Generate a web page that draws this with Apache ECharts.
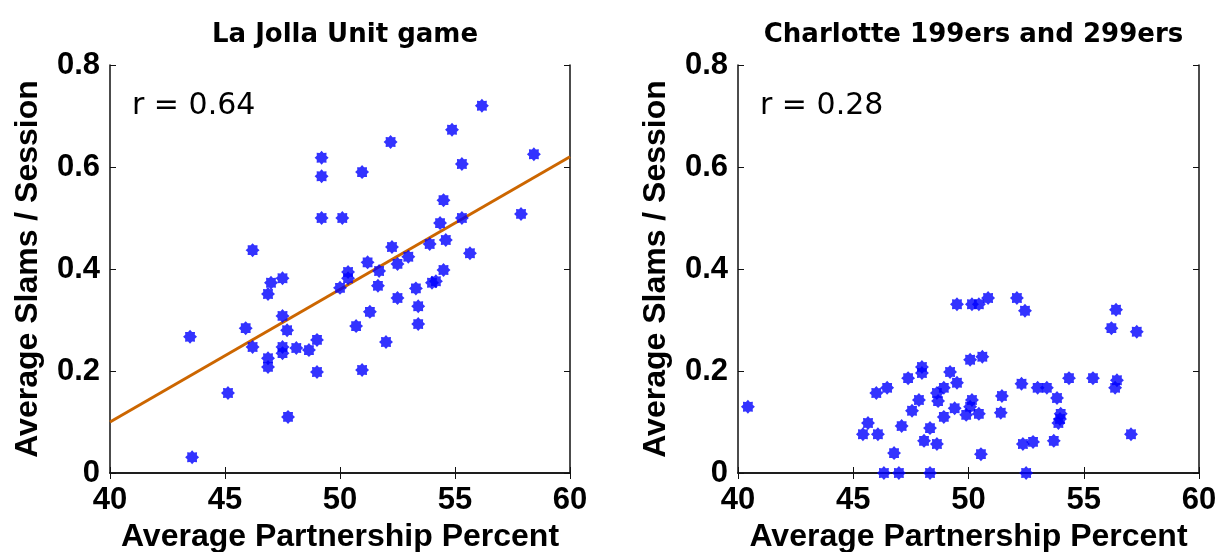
<!DOCTYPE html>
<html>
<head>
<meta charset="utf-8">
<script src="https://cdn.jsdelivr.net/npm/echarts@6/dist/echarts.min.js"></script>
<style>
  html, body { margin: 0; padding: 0; background: #fff; }
  #chart { width: 1232px; height: 552px; }
</style>
</head>
<body>
<div id="chart"></div>
<script>
  // La Jolla Unit game
  const laJollaX = [56.17, 54.87, 52.2, 49.2, 49.2, 50.96, 58.43, 55.3, 54.5, 49.2, 50.1, 57.87, 55.3, 54.35,
    46.2, 52.26, 53.9, 54.6, 52.97, 55.65, 51.2, 50.35, 50.35, 50.0, 51.7, 52.5, 51.65, 54.5, 54.17, 54.0,
    53.3, 53.4, 53.4, 52.5, 51.3, 50.7, 52.0, 50.96, 49.0, 49.0, 48.65, 48.1, 47.5, 47.7, 47.5, 47.5, 47.5,
    47.0, 46.87, 45.9, 46.2, 46.87, 46.87, 43.48, 45.13, 47.74, 43.57];
  const laJollaY = [0.72, 0.673, 0.649, 0.618, 0.582, 0.59, 0.625, 0.606, 0.535, 0.5, 0.5, 0.508, 0.5, 0.49,
    0.437, 0.443, 0.449, 0.457, 0.424, 0.431, 0.413, 0.394, 0.382, 0.363, 0.396, 0.41, 0.367, 0.398, 0.376, 0.373,
    0.362, 0.327, 0.292, 0.343, 0.316, 0.288, 0.257, 0.202, 0.198, 0.261, 0.241, 0.245, 0.308, 0.28, 0.247, 0.235, 0.382,
    0.373, 0.351, 0.284, 0.247, 0.225, 0.208, 0.267, 0.157, 0.11, 0.031];
  const fitX = [40, 60];
  const fitY = [0.1, 0.62];

  // Charlotte 199ers and 299ers
  const charlotteX = [40.43, 49.5, 50.15, 50.45, 50.85, 52.1, 52.45, 56.4, 56.2, 57.3, 50.07, 50.6, 47.98, 47.98,
    47.38, 46.47, 46.0, 49.2, 49.5, 48.93, 48.63, 48.68, 47.85, 47.55, 49.4, 50.15, 50.07, 49.9, 50.45, 48.93,
    51.45, 51.4, 52.3, 53.0, 53.4, 53.84, 54.0, 53.97, 53.9, 54.36, 55.4, 56.44, 56.36, 45.64, 45.42, 46.07,
    47.1, 48.33, 48.07, 48.63, 46.77, 50.54, 52.36, 52.8, 53.7, 57.05, 46.33, 46.98, 48.33, 52.5];
  const charlotteY = [0.13, 0.331, 0.331, 0.331, 0.343, 0.343, 0.318, 0.32, 0.284, 0.277, 0.222, 0.228, 0.208, 0.196,
    0.186, 0.167, 0.157, 0.198, 0.177, 0.167, 0.157, 0.141, 0.143, 0.122, 0.127, 0.143, 0.13, 0.114, 0.116, 0.11,
    0.151, 0.118, 0.175, 0.167, 0.167, 0.147, 0.116, 0.106, 0.098, 0.186, 0.186, 0.182, 0.167, 0.098, 0.076, 0.076,
    0.092, 0.088, 0.063, 0.057, 0.039, 0.037, 0.057, 0.061, 0.063, 0.076, 0, 0, 0, 0];

  const titles = ['La Jolla Unit game', 'Charlotte 199ers and 299ers'];
  const rLabels = ['r = 0.64', 'r = 0.28'];

  // 8 point star, like matlab '*' markers
  function starPath() {
    let d = '';
    for (let i = 0; i < 16; i++) {
      const a = Math.PI * i / 8;
      const r = i % 2 === 0 ? 10 : 7.4;
      d += (i === 0 ? 'M' : 'L') + (r * Math.cos(a)).toFixed(2) + ' ' + (r * Math.sin(a)).toFixed(2);
    }
    return d + 'Z';
  }
  const star = 'path://' + starPath();

  const font = 'Liberation Sans, Arial, sans-serif';
  const wideFont = 'DejaVu Sans, sans-serif';
  const grids = [
    {left: 110, top: 65, width: 460, height: 408, outerBoundsMode: 'none'},
    {left: 738, top: 65, width: 461, height: 408, outerBoundsMode: 'none'}
  ];

  const xAxis = [], yAxis = [];
  grids.forEach((g, i) => {
    xAxis.push({
      gridIndex: i, type: 'value', min: 40, max: 60, interval: 5, position: 'bottom',
      name: 'Average Partnership Percent', nameLocation: 'middle', nameGap: 48,
      nameTextStyle: {fontFamily: font, fontSize: 32, fontWeight: 'bold', color: '#000'},
      axisLine: {lineStyle: {color: '#111', width: 1.5}},
      axisTick: {inside: true, length: 6, lineStyle: {color: '#111'}},
      axisLabel: {fontFamily: font, fontSize: 31, fontWeight: 'bold', color: '#000', margin: 12},
      splitLine: {show: false}
    });
    xAxis.push({
      gridIndex: i, type: 'value', min: 40, max: 60, interval: 5, position: 'top',
      axisLine: {lineStyle: {color: '#111', width: 1.5}},
      axisTick: {inside: true, length: 6, lineStyle: {color: '#111'}},
      axisLabel: {show: false}, splitLine: {show: false}
    });
    yAxis.push({
      gridIndex: i, type: 'value', min: 0, max: 0.8, interval: 0.2, position: 'left',
      name: 'Average Slams / Session', nameLocation: 'middle', nameGap: 66,
      nameTextStyle: {fontFamily: font, fontSize: 32, fontWeight: 'bold', color: '#000'},
      axisLine: {lineStyle: {color: '#111', width: 1.5}},
      axisTick: {inside: true, length: 6, lineStyle: {color: '#111'}},
      axisLabel: {fontFamily: font, fontSize: 31, fontWeight: 'bold', color: '#000', margin: 10,
        formatter: v => v === 0 ? '0' : String(+v.toFixed(1))},
      splitLine: {show: false}
    });
    yAxis.push({
      gridIndex: i, type: 'value', min: 0, max: 0.8, interval: 0.2, position: 'right',
      axisLine: {lineStyle: {color: '#111', width: 1.5}},
      axisTick: {inside: true, length: 6, lineStyle: {color: '#111'}},
      axisLabel: {show: false}, splitLine: {show: false}
    });
  });

  const zip = (xs, ys) => xs.map((x, i) => [x, ys[i]]);

  const option = {
    animation: false,
    backgroundColor: '#fff',
    title: titles.map((t, i) => ({
      text: t, left: grids[i].left + grids[i].width / 2, top: 17, textAlign: 'center',
      textStyle: {fontFamily: wideFont, fontSize: 26, fontWeight: 'bold', color: '#000'}
    })).concat(rLabels.map((t, i) => ({
      text: t, left: grids[i].left + 17, top: 86,
      textStyle: {fontFamily: wideFont, fontSize: 30, fontWeight: 'normal', color: '#000'}
    }))),
    grid: grids,
    xAxis: xAxis,
    yAxis: yAxis,
    series: [
      {
        type: 'line', xAxisIndex: 0, yAxisIndex: 0, data: zip(fitX, fitY),
        symbol: 'none', lineStyle: {color: '#cc6600', width: 3}, z: 1
      },
      {
        type: 'scatter', xAxisIndex: 0, yAxisIndex: 0, data: zip(laJollaX, laJollaY),
        symbol: star, symbolSize: 14, clip: false, itemStyle: {color: '#0000ff'}, z: 2
      },
      {
        type: 'scatter', xAxisIndex: 2, yAxisIndex: 2, data: zip(charlotteX, charlotteY),
        symbol: star, symbolSize: 14, clip: false, itemStyle: {color: '#0000ff'}, z: 2
      }
    ]
  };

  echarts.init(document.getElementById('chart')).setOption(option);
</script>
</body>
</html>
